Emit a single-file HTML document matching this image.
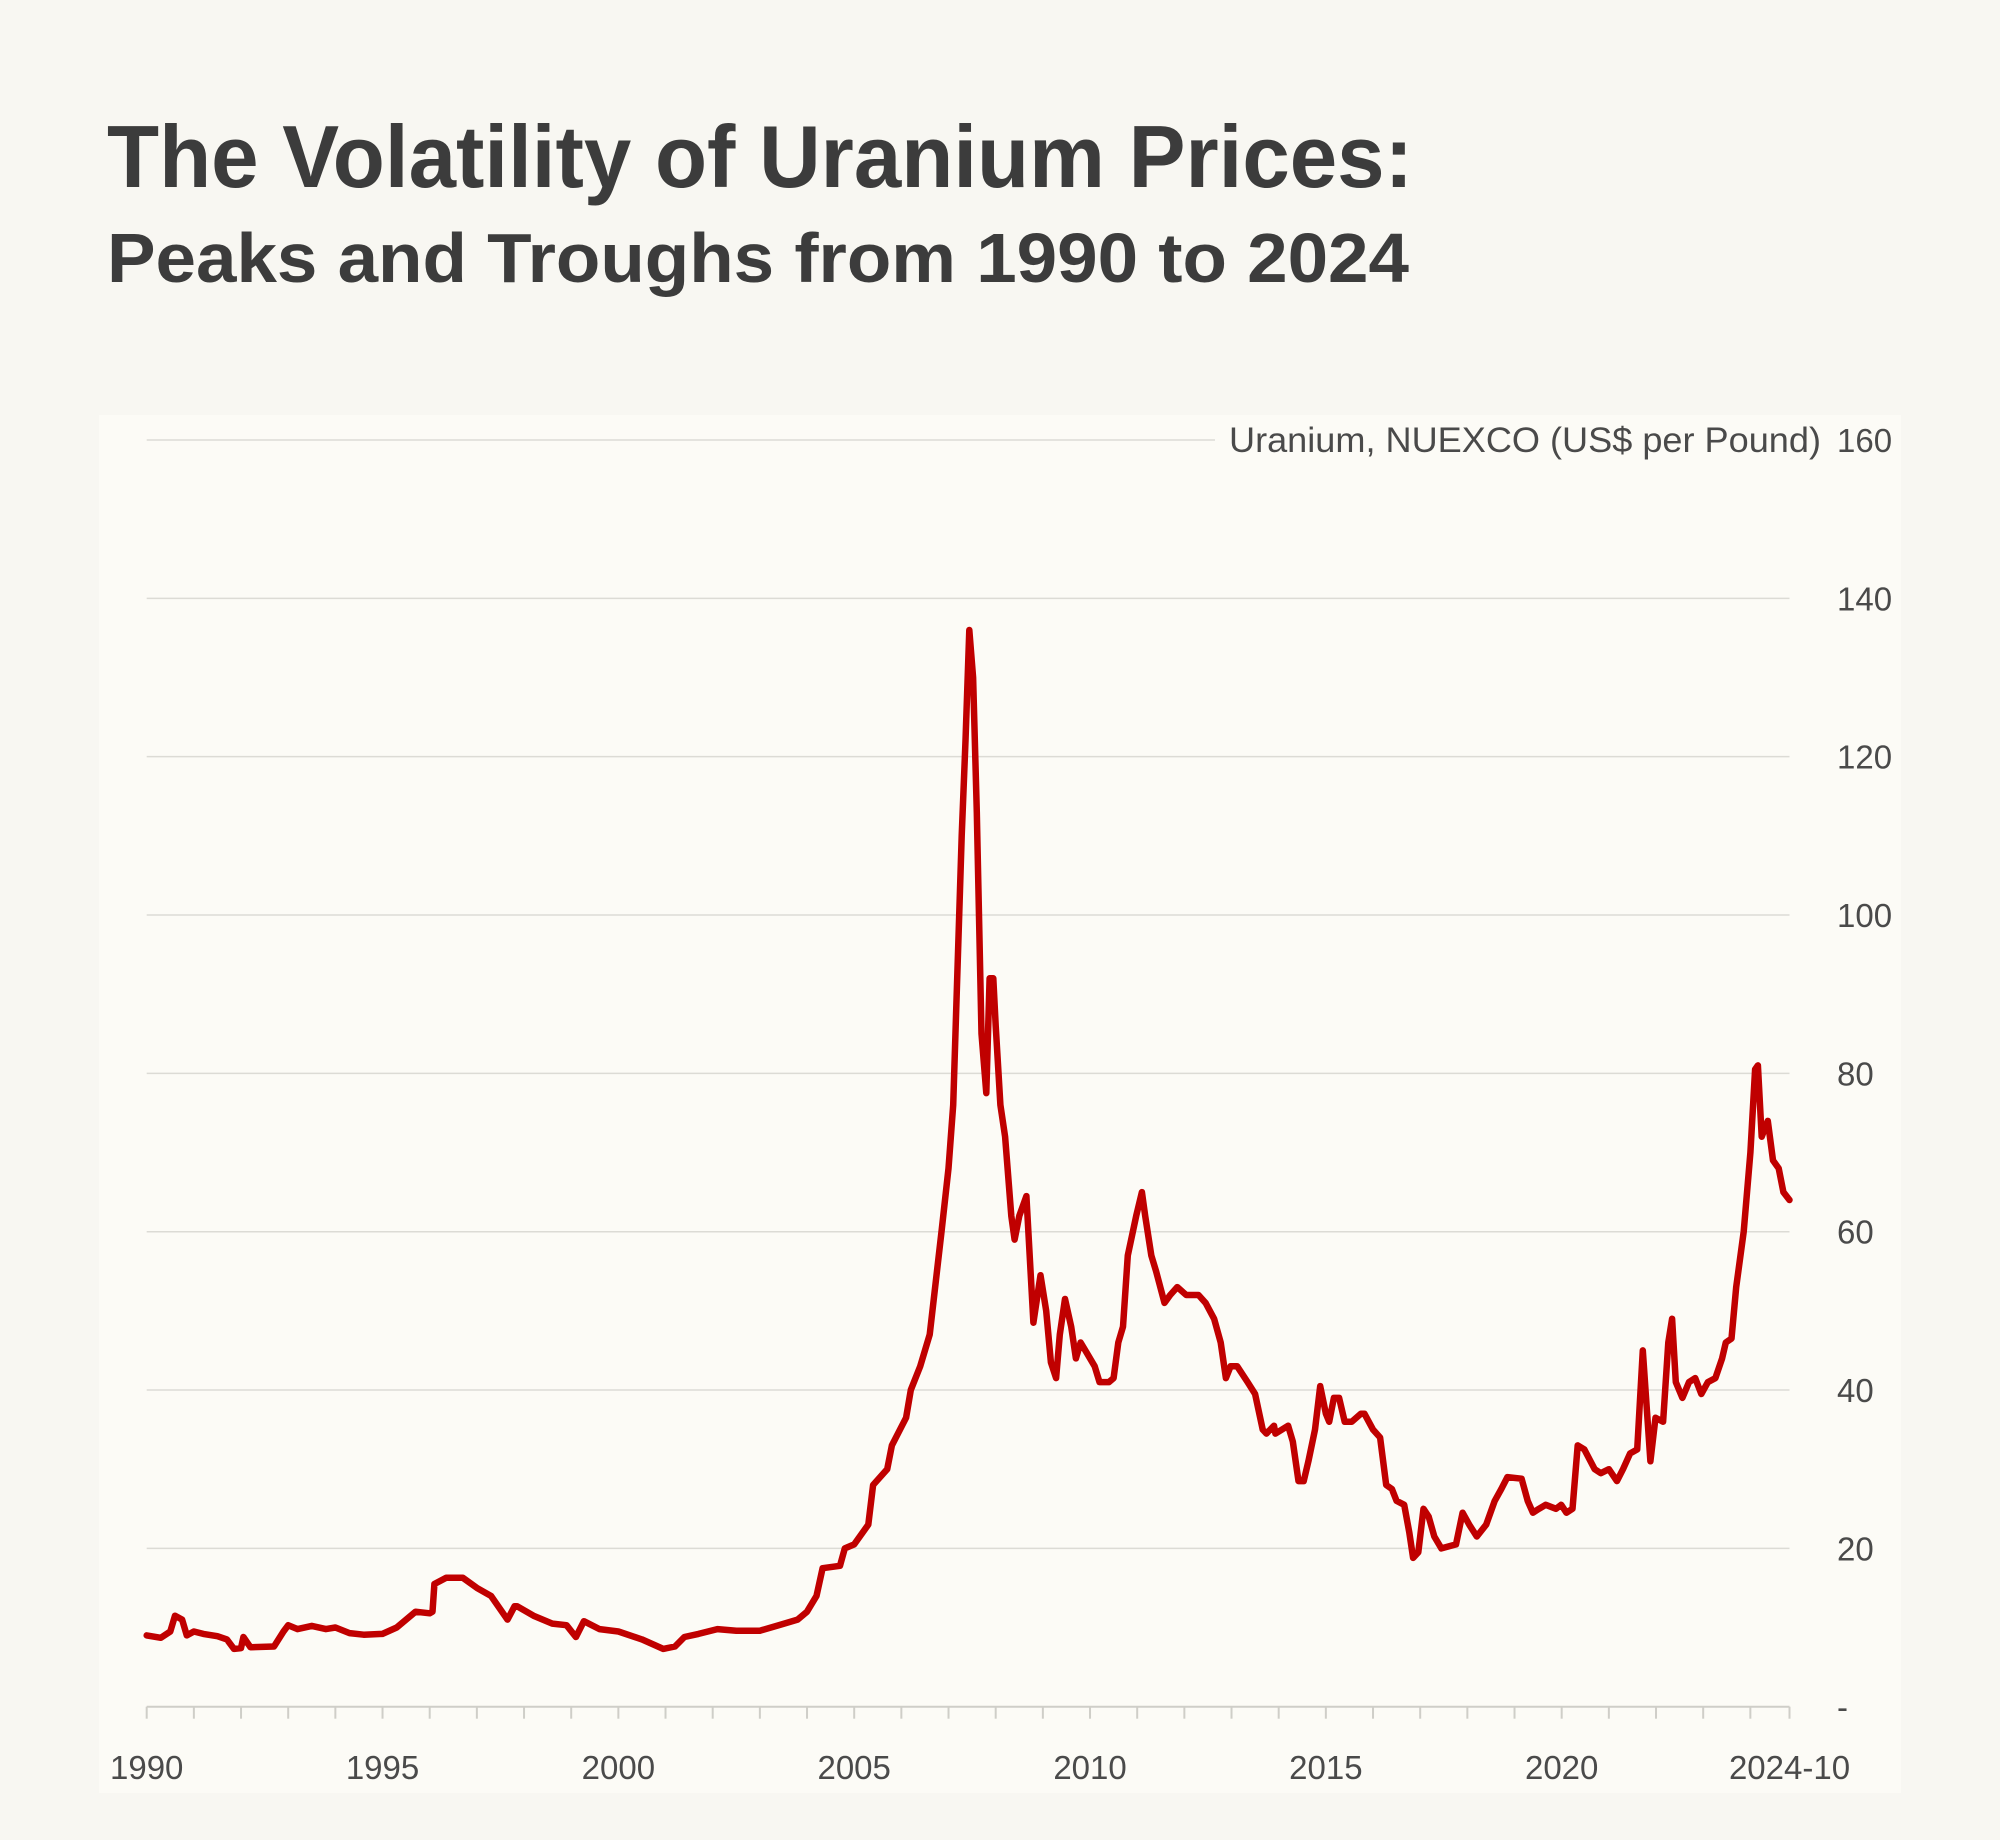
<!DOCTYPE html>
<html><head><meta charset="utf-8"><style>
html,body{margin:0;padding:0;background:#f8f7f2;}
svg{display:block;font-family:"Liberation Sans",sans-serif;}
</style></head><body>
<svg id="chart" width="2000" height="1840" viewBox="0 0 2000 1840">
<rect x="0" y="0" width="2000" height="1840" fill="#f8f7f2"/>
<text x="107" y="187" font-size="88" font-weight="bold" fill="#3c3c3c" textLength="1306" lengthAdjust="spacingAndGlyphs">The Volatility of Uranium Prices:</text>
<text x="107" y="282" font-size="70" font-weight="bold" fill="#3c3c3c" textLength="1302" lengthAdjust="spacingAndGlyphs">Peaks and Troughs from 1990 to 2024</text>
<rect x="99" y="415" width="1802" height="1378" fill="#fcfbf6"/>
<g id="grid"></g><g id="axis"></g><g id="series"></g>
</svg>
<script>
const NS="http://www.w3.org/2000/svg";
const yTicks=[0,20,40,60,80,100,120,140,160];
const yTickLabels=["-","20","40","60","80","100","120","140","160"];
const xLabelYears=[1990,1995,2000,2005,2010,2015,2020,2024.83];
const xLabels=["1990","1995","2000","2005","2010","2015","2020","2024-10"];
const years=[1990,1990.3,1990.5,1990.6,1990.75,1990.85,1991,1991.2,1991.5,1991.7,1991.85,1992,1992.05,1992.2,1992.7,1992.9,1993,1993.2,1993.5,1993.8,1994,1994.3,1994.6,1995,1995.3,1995.5,1995.7,1996,1996.06,1996.1,1996.35,1996.7,1997,1997.3,1997.65,1997.8,1997.85,1998.2,1998.6,1998.9,1999.1,1999.27,1999.6,2000,2000.5,2000.95,2001.2,2001.4,2001.7,2002.1,2002.5,2003.0,2003.4,2003.8,2004.0,2004.2,2004.33,2004.7,2004.8,2005.0,2005.3,2005.4,2005.7,2005.8,2006.1,2006.2,2006.4,2006.6,2006.85,2007.0,2007.1,2007.28,2007.36,2007.44,2007.52,2007.6,2007.7,2007.8,2007.87,2007.95,2008.0,2008.1,2008.2,2008.33,2008.4,2008.5,2008.65,2008.8,2008.95,2009.07,2009.17,2009.28,2009.36,2009.47,2009.6,2009.7,2009.8,2009.95,2010.1,2010.2,2010.4,2010.5,2010.6,2010.7,2010.8,2010.98,2011.1,2011.17,2011.3,2011.4,2011.58,2011.7,2011.85,2012.04,2012.3,2012.45,2012.63,2012.77,2012.88,2012.98,2013.12,2013.34,2013.5,2013.66,2013.74,2013.9,2013.93,2014.2,2014.3,2014.42,2014.53,2014.63,2014.77,2014.88,2015.0,2015.07,2015.17,2015.28,2015.4,2015.55,2015.74,2015.82,2016.0,2016.15,2016.28,2016.4,2016.5,2016.66,2016.77,2016.85,2016.96,2017.07,2017.18,2017.3,2017.45,2017.76,2017.9,2018.04,2018.2,2018.4,2018.58,2018.72,2018.85,2019.15,2019.28,2019.39,2019.52,2019.66,2019.88,2019.99,2020.1,2020.23,2020.34,2020.48,2020.7,2020.83,2021.0,2021.17,2021.3,2021.45,2021.6,2021.72,2021.88,2021.99,2022.15,2022.26,2022.34,2022.42,2022.56,2022.7,2022.83,2022.96,2023.1,2023.26,2023.4,2023.48,2023.6,2023.7,2023.86,2024.0,2024.1,2024.16,2024.24,2024.37,2024.48,2024.6,2024.7,2024.83];
const prices=[9,8.7,9.5,11.5,11,9,9.5,9.2,8.9,8.5,7.3,7.4,8.8,7.5,7.6,9.5,10.3,9.8,10.2,9.8,10,9.3,9.1,9.2,10,11,12,11.8,12,15.5,16.3,16.3,15,14,11,12.7,12.7,11.5,10.5,10.3,8.8,10.8,9.8,9.5,8.5,7.3,7.6,8.8,9.2,9.8,9.6,9.6,10.3,11,12,14,17.5,17.8,20,20.5,23,28,30,33,36.5,40,43,47,60,68,76,110,122,136,130,113,85,77.5,92,92,86,76,72,62,59,62,64.5,48.5,54.5,50,43.5,41.5,47,51.5,48,44,46,44.5,43,41,41,41.5,46,48,57,62,65,62,57,55,51,52,53,52,52,51,49,46,41.5,43,43,41,39.5,35,34.5,35.5,34.5,35.5,33.5,28.5,28.5,31,35,40.5,37,36,39,39,36,36,37,37,35,34,28,27.5,26,25.5,22,18.8,19.5,25,24,21.5,20,20.5,24.5,23,21.5,23,26,27.5,29,28.8,26,24.5,25,25.5,25,25.5,24.5,25,33,32.5,30,29.5,30,28.5,30,32,32.5,45,31,36.5,36,46,49,41,39,41,41.5,39.5,41,41.5,44,46,46.5,53,60,70,80.5,81,72,74,69,68,65,64];
const X0=146.7,X1=1789.5,Y0=1706.7,Y1=440;
function xs(y){return X0+(y-1990)/(2024.83-1990)*(X1-X0);}
function ys(v){return Y0-v/160*(Y0-Y1);}
function mk(tag,attrs,parent,text){const e=document.createElementNS(NS,tag);for(const k in attrs)e.setAttribute(k,attrs[k]);if(text!==undefined)e.textContent=text;parent.appendChild(e);return e;}
const grid=document.getElementById('grid'),axis=document.getElementById('axis'),series=document.getElementById('series');
yTicks.forEach((t,i)=>{
  const y=ys(t);
  if(t>0){
    const x2=(t===160)?1215:X1;
    const l=mk('line',{x1:X0,x2:x2,y1:y,y2:y,stroke:'#dcdbd5','stroke-width':1.5},grid);
    
    
  }
  const tx=mk('text',{x:1837,y:y+12,'font-size':33,fill:'#4a4a4a'},axis,yTickLabels[i]);
  
  
});
const ut=mk('text',{x:1821,y:ys(160)+12,'font-size':35,fill:'#4a4a4a','text-anchor':'end',textLength:592,lengthAdjust:'spacingAndGlyphs'},axis,'Uranium, NUEXCO (US$ per Pound)');


const al=mk('line',{x1:X0,x2:X1,y1:Y0,y2:Y0,stroke:'#cfcec8','stroke-width':2},axis);


for(let yr=1990;yr<=2024;yr++){
  const tk=mk('line',{x1:xs(yr),x2:xs(yr),y1:Y0,y2:Y0+12,stroke:'#cfcec8','stroke-width':2},axis);
  
  
}
const et=mk('line',{x1:X1,x2:X1,y1:Y0,y2:Y0+12,stroke:'#cfcec8','stroke-width':2},axis);


xLabelYears.forEach((yr,i)=>{
  const t=mk('text',{x:xs(yr),y:1779,'font-size':33,fill:'#4a4a4a','text-anchor':'middle'},axis,xLabels[i]);
  
  
});
let d='';
years.forEach((yr,i)=>{d+=(i?'L':'M')+xs(yr).toFixed(1)+','+ys(prices[i]).toFixed(1);});
const p=mk('path',{d:d,fill:'none',stroke:'#c00000','stroke-width':6.5,'stroke-linejoin':'round','stroke-linecap':'round'},series);


</script>
</body></html>
